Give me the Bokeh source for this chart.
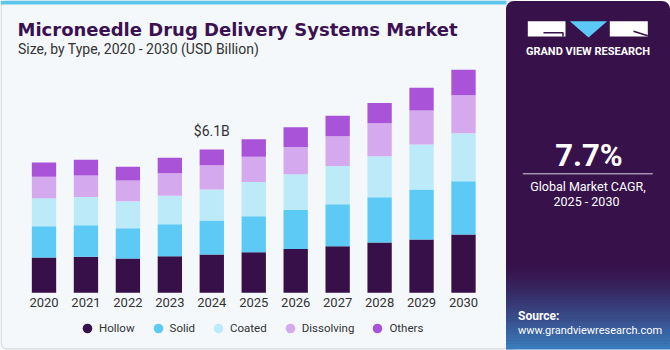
from bokeh.plotting import figure
from bokeh.models import Range1d, ColumnDataSource, Legend, LegendItem, Label
from bokeh.core.properties import value
from bokeh.embed import file_html
from bokeh.resources import INLINE

# ---------------- data ----------------
years = [2020, 2021, 2022, 2023, 2024, 2025, 2026, 2027, 2028, 2029, 2030]
year_labels = [str(y) for y in years]
types = ["Hollow", "Solid", "Coated", "Dissolving", "Others"]
hollow     = [1.50, 1.53, 1.46, 1.56, 1.63, 1.73, 1.86, 1.98, 2.14, 2.27, 2.48]
solid      = [1.33, 1.34, 1.29, 1.36, 1.45, 1.53, 1.66, 1.79, 1.93, 2.13, 2.27]
coated     = [1.19, 1.21, 1.15, 1.21, 1.32, 1.45, 1.53, 1.63, 1.74, 1.91, 2.04]
dissolving = [0.92, 0.91, 0.88, 0.96, 1.03, 1.08, 1.15, 1.26, 1.40, 1.45, 1.62]
others     = [0.60, 0.67, 0.58, 0.66, 0.67, 0.74, 0.84, 0.87, 0.87, 0.97, 1.08]
highlight_year = 2024
cagr_text = "7.7%"

colors = ["#37104a", "#5ccaf5", "#bdeaf9", "#d5a9ee", "#a853d8"]

# ---------------- figure (pixel frame) ----------------
W, H = 670, 350
p = figure(width=W, height=H, x_range=Range1d(0, W), y_range=Range1d(H, 0),
           x_axis_type=None, y_axis_type=None, toolbar_location=None,
           output_backend="svg", min_border=0, outline_line_color=None,
           background_fill_color="white", border_fill_color="white")
p.grid.visible = False

# chart ranges for the bars
base_px = 292.3
px_per_unit = 23.5
x0_px, step_px = 43.5, 41.95
p.extra_x_ranges = {"yr": Range1d(years[0] - x0_px / step_px,
                                  years[0] - x0_px / step_px + W / step_px)}
p.extra_y_ranges = {"val": Range1d(-(H - base_px) / px_per_unit,
                                   base_px / px_per_unit)}

# ---------------- background panels ----------------
p.quad(left=0.5, right=520, top=0.5, bottom=348.5, fill_color="#f4f8fb",
       line_color="#c9cbce", line_width=1, border_radius=6)
p.quad(left=0, right=506, top=0, bottom=4, fill_color="#5bc5ee", line_color=None)

# right dark panel with gradient toward the bottom
p.quad(left=505.5, right=669.5, top=0.5, bottom=348.5, fill_color="#37114a",
       line_color=None, border_radius=8)
c0 = (0x37, 0x11, 0x4a)
c1 = (0x3a, 0x7c, 0xbc)
n = 30
y_start, y_end = 262, 348.5
for i in range(n):
    t = (i / (n - 1)) ** 1.3
    c = "#%02x%02x%02x" % tuple(int(a + (b - a) * t) for a, b in zip(c0, c1))
    ya = y_start + (y_end - y_start) * i / n
    yb = y_start + (y_end - y_start) * (i + 1) / n
    p.quad(left=505.5, right=669.5, top=ya, bottom=yb + 0.5, fill_color=c, line_color=None)

# logo
p.quad(left=527.3, right=565, top=20.7, bottom=36, fill_color="white", line_color=None)
p.quad(left=609.3, right=647.3, top=20.7, bottom=36, fill_color="white", line_color=None)
p.patch(x=[569.3, 606.7, 588], y=[20.7, 20.7, 37], fill_color="#5bc8f5", line_color=None)
p.line(x=[543, 562.5, 562.5], y=[32.3, 32.3, 36], line_color="#37114a", line_width=1.5)
p.line(x=[633, 647.3], y=[30.7, 35.3], line_color="#37114a", line_width=1.5)

# ---------------- bars ----------------
src = ColumnDataSource(dict(year=years, Hollow=hollow, Solid=solid, Coated=coated,
                            Dissolving=dissolving, Others=others))
p.vbar_stack(types, x="year", width=0.58, color=colors, source=src,
             x_range_name="yr", y_range_name="val", line_color=None)

# x tick labels
p.text(x=years, y=[0] * len(years), text=year_labels, x_range_name="yr",
       y_range_name="val", y_offset=9.5, text_align="center", text_baseline="middle",
       text_font=value("Roboto"), text_font_size="13px", text_color="#333333")

# value label
hi = years.index(highlight_year)
total_hi = hollow[hi] + solid[hi] + coated[hi] + dissolving[hi] + others[hi]
p.text(x=[highlight_year], y=[total_hi], text=["$%.1fB" % total_hi],
       x_range_name="yr", y_range_name="val", y_offset=-18, text_align="center",
       text_baseline="middle", text_font=value("Roboto"), text_font_size="14px",
       text_color="#333333")

# ---------------- legend ----------------
items = []
for t, c in zip(types, colors):
    r = p.scatter(x=[years[0]], y=[float("nan")], marker="circle", size=10,
                  fill_color=c, line_color=None, x_range_name="yr", y_range_name="val")
    items.append(LegendItem(label=t, renderers=[r]))
legend = Legend(items=items, orientation="horizontal", location=(75, 10.5),
                glyph_width=24, glyph_height=24, label_standoff=0, spacing=11,
                padding=0, margin=0, border_line_color=None, background_fill_alpha=0,
                label_text_font="Roboto", label_text_font_size="11.5px",
                label_text_color="#333333", label_height=12)
p.add_layout(legend)

# ---------------- texts ----------------
p.add_layout(Label(x=17, y=29, text="Microneedle Drug Delivery Systems Market",
                   text_font="DejaVu Sans", text_font_style="bold", text_font_size="18px",
                   text_color="#3b1152", text_baseline="middle"))
p.add_layout(Label(x=17.5, y=48.5, text="Size, by Type, 2020 - 2030 (USD Billion)",
                   text_font="Roboto", text_font_size="14px", text_color="#333333",
                   text_baseline="middle"))
p.add_layout(Label(x=587.5, y=51, text="GRAND VIEW RESEARCH", text_font="Roboto",
                   text_font_style="bold", text_font_size="11px", text_color="white",
                   text_align="center", text_baseline="middle"))
p.add_layout(Label(x=588.5, y=155, text=cagr_text, text_font="Roboto",
                   text_font_style="bold", text_font_size="31px", text_color="white",
                   text_align="center", text_baseline="middle"))
p.line(x=[522.3, 652.3], y=[173.3, 173.3], line_color="#d8cfe0", line_width=1)
p.add_layout(Label(x=587.5, y=185.5, text="Global Market CAGR,", text_font="Roboto",
                   text_font_size="12.5px", text_color="white", text_align="center",
                   text_baseline="middle"))
p.add_layout(Label(x=586, y=201, text="2025 - 2030", text_font="Roboto",
                   text_font_size="12.5px", text_color="white", text_align="center",
                   text_baseline="middle"))
p.add_layout(Label(x=517.5, y=315, text="Source:", text_font="Roboto",
                   text_font_style="bold", text_font_size="12px", text_color="white",
                   text_baseline="middle"))
p.add_layout(Label(x=517.5, y=329.5, text="www.grandviewresearch.com", text_font="Roboto",
                   text_font_size="11px", text_color="white", text_baseline="middle"))

open("out.html", "w").write(file_html(p, INLINE))
